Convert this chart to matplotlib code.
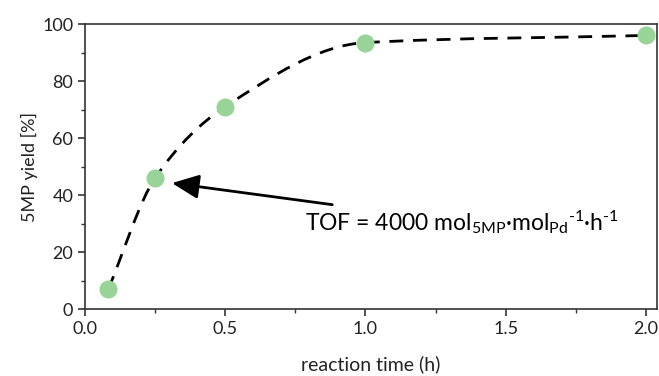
import numpy as np
import matplotlib
matplotlib.use("Agg")
import matplotlib.pyplot as plt
from matplotlib.path import Path
from matplotlib.patches import PathPatch
from matplotlib.ticker import MultipleLocator, FormatStrFormatter

# reaction time (h) vs 5MP yield (%)
time_h = [0.083, 0.25, 0.5, 1.0, 2.0]
yield_pct = [7, 46, 71, 93.5, 96]

plt.rcParams['font.family'] = ['Lato', 'DejaVu Sans']
plt.rcParams['mathtext.fontset'] = 'custom'
plt.rcParams['mathtext.rm'] = 'Lato'
plt.rcParams['mathtext.it'] = 'Lato:italic'


# smooth connecting line (monotone cubic tangents -> bezier path)
def smooth_path(x, y):
    x = np.asarray(x, float)
    y = np.asarray(y, float)
    h = np.diff(x)
    d = np.diff(y) / h
    m = np.zeros_like(x)
    m[0], m[-1] = d[0], d[-1]
    for i in range(1, len(x) - 1):
        if d[i - 1] * d[i] > 0:
            w1 = 2 * h[i] + h[i - 1]
            w2 = h[i] + 2 * h[i - 1]
            m[i] = (w1 + w2) / (w1 / d[i - 1] + w2 / d[i])
    verts = [(x[0], y[0])]
    codes = [Path.MOVETO]
    for i in range(len(x) - 1):
        verts += [(x[i] + h[i] / 3, y[i] + m[i] * h[i] / 3),
                  (x[i + 1] - h[i] / 3, y[i + 1] - m[i + 1] * h[i] / 3),
                  (x[i + 1], y[i + 1])]
        codes += [Path.CURVE4] * 3
    return Path(verts, codes)


fig = plt.figure(figsize=(6.59, 3.76), dpi=100)
ax = fig.add_axes([0.129, 0.178, 0.868, 0.758])

ax.add_patch(PathPatch(smooth_path(time_h, yield_pct), fill=False, color='black',
                       lw=2, linestyle=(0, (5, 3.5)), zorder=2))
ax.plot(time_h, yield_pct, 'o', color='#98d498', markersize=13, mec='none', zorder=3)

ax.set_xlim(0, 2.04)
ax.set_ylim(0, 100)
ax.xaxis.set_major_locator(MultipleLocator(0.5))
ax.xaxis.set_minor_locator(MultipleLocator(0.25))
ax.yaxis.set_major_locator(MultipleLocator(20))
ax.yaxis.set_minor_locator(MultipleLocator(10))
ax.xaxis.set_major_formatter(FormatStrFormatter('%.1f'))
ax.tick_params(which='both', direction='out', color='#333333', labelsize=13,
               labelcolor='#222222')
ax.tick_params(which='major', length=5, width=1.2)
ax.tick_params(which='minor', length=3, width=1)
for s in ax.spines.values():
    s.set_color('#333333')
    s.set_linewidth(1.2)

ax.set_xlabel('reaction time (h)', fontsize=14, labelpad=13, color='#222222')
ax.set_ylabel('5MP yield [%]', fontsize=13, labelpad=3, color='#222222')

ax.annotate('TOF = 4000 mol$_\\mathrm{5MP}$\u00b7mol$_\\mathrm{Pd}$$^\\mathrm{\u2010 1}$\u00b7h$^\\mathrm{\u2010 1}$',
            xy=(0.31, 44.2), xytext=(0.785, 30.5), fontsize=16.5, va='center', ha='left',
            arrowprops=dict(arrowstyle='-|>,head_length=1.0,head_width=0.45',
                            color='black', lw=2, shrinkA=4, shrinkB=0))

plt.savefig('out.png', dpi=100)
